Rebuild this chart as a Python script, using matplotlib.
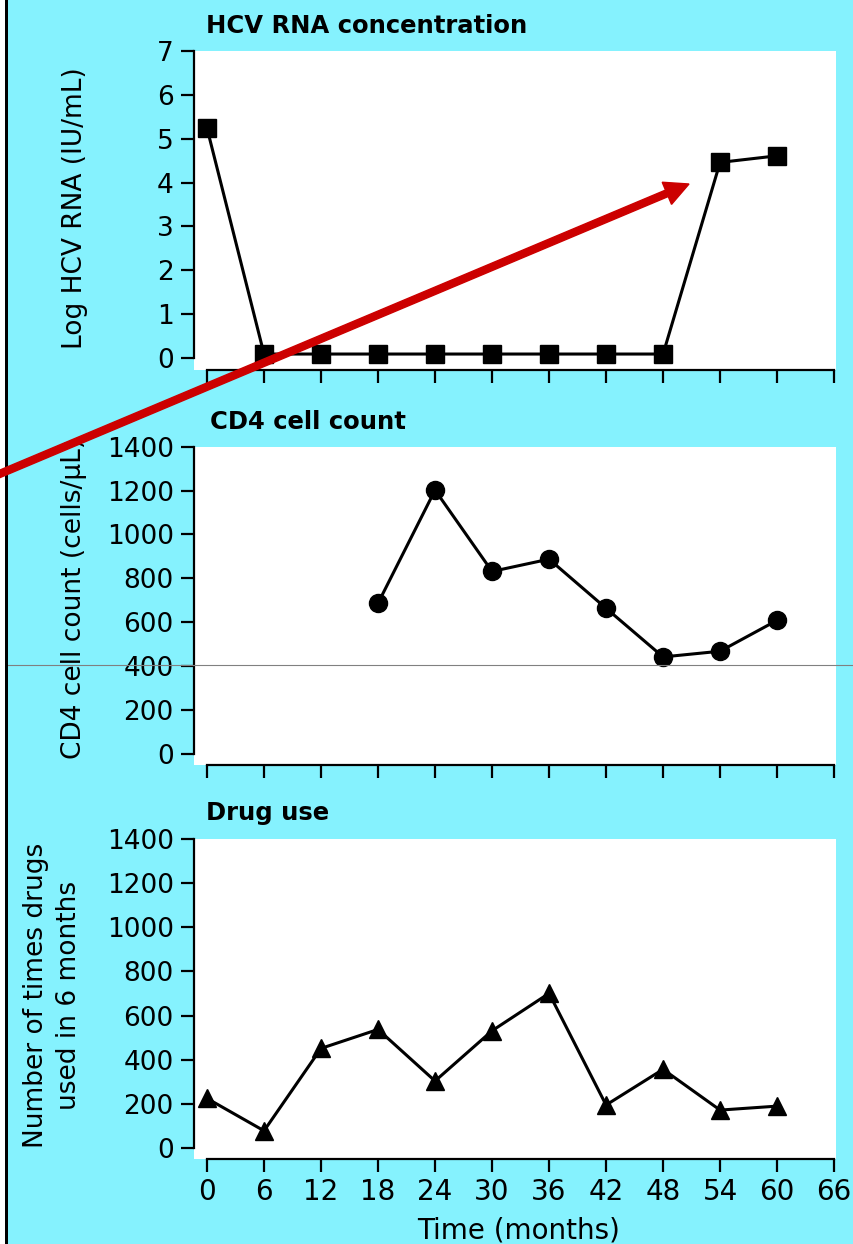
import matplotlib
matplotlib.use("Agg")
import matplotlib.pyplot as plt
import matplotlib.transforms as mtransforms
from matplotlib.lines import Line2D
from matplotlib.patches import FancyArrow, Rectangle

# --- data ---
months = [0, 6, 12, 18, 24, 30, 36, 42, 48, 54, 60]
hcv_log_rna = [5.24, 0.09, 0.09, 0.09, 0.09, 0.09, 0.09, 0.09, 0.09, 4.46, 4.61]

cd4_months = [18, 24, 30, 36, 42, 48, 54, 60]
cd4_count = [686, 1202, 831, 887, 663, 441, 467, 608]

drug_use = [224, 77, 451, 537, 303, 531, 701, 194, 356, 171, 189]

x_ticks = list(range(0, 67, 6))
hcv_ticks = list(range(0, 8))
count_ticks = list(range(0, 1401, 200))

# --- look ---
W, H = 854, 1244
CYAN = '#85F2FE'
plt.rcParams['font.family'] = 'DejaVu Sans'

fig = plt.figure(figsize=(W / 100, H / 100), dpi=100, facecolor=CYAN)


def add_panel(top, bottom):
    # pixel box -> figure fraction
    return fig.add_axes([194 / W, 1 - bottom / H, (836 - 194) / W, (bottom - top) / H])


def style(ax, ybounds, yticks, show_xlabels):
    ax.set_facecolor('white')
    ax.set_xlim(-1.37, 66.2)
    for s in ('top', 'right'):
        ax.spines[s].set_visible(False)
    ax.spines['left'].set_linewidth(1.6)
    ax.spines['bottom'].set_linewidth(1.6)
    ax.spines['left'].set_bounds(*ybounds)
    ax.spines['bottom'].set_bounds(0, 66)
    ax.set_xticks(x_ticks)
    ax.set_yticks(yticks)
    ax.tick_params(direction='out', length=9.5, width=1.6, labelsize=19,
                   colors='black', pad=5)
    if not show_xlabels:
        ax.set_xticklabels([])


# --- HCV RNA ---
ax1 = add_panel(51, 370)
ax1.set_ylim(-0.274, 7)
ax1.plot(months, hcv_log_rna, color='black', lw=2.2, marker='s', ms=12.5,
         clip_on=False, zorder=3)
style(ax1, (0, 7), hcv_ticks, False)

# --- CD4 ---
ax2 = add_panel(446.7, 765)
ax2.set_ylim(-52, 1400)
ax2.plot(cd4_months, cd4_count, color='black', lw=2.2, marker='o', ms=13,
         clip_on=False, zorder=3)
style(ax2, (0, 1400), count_ticks, False)

# --- drug use ---
ax3 = add_panel(839.3, 1159)
ax3.set_ylim(-51, 1400)
ax3.plot(months, drug_use, color='black', lw=2.2, marker='^', ms=13,
         clip_on=False, zorder=3)
style(ax3, (0, 1400), count_ticks, True)
ax3.tick_params(axis='x', labelsize=20, pad=4)

# titles
fig.text(206 / W, 1 - 33 / H, 'HCV RNA concentration', fontsize=17.5,
         fontweight='bold', va='baseline', ha='left')
fig.text(210 / W, 1 - 429 / H, 'CD4 cell count', fontsize=17.5,
         fontweight='bold', va='baseline', ha='left')
fig.text(206 / W, 1 - 820 / H, 'Drug use', fontsize=17.5,
         fontweight='bold', va='baseline', ha='left')

# y labels
fig.text(75 / W, 1 - 208 / H, 'Log HCV RNA (IU/mL)', rotation=90,
         fontsize=19, ha='center', va='center')
fig.text(74 / W, 1 - 598 / H, 'CD4 cell count (cells/\u00b5L)', rotation=90,
         fontsize=19, ha='center', va='center')
fig.text(53 / W, 1 - 995 / H, 'Number of times drugs\nused in 6 months',
         rotation=90, fontsize=19, ha='center', va='center',
         multialignment='center', linespacing=1.35)

# x label (cut by the bottom edge in the reference)
fig.text(519 / W, 1 - 1239 / H, 'Time (months)', fontsize=20,
         ha='center', va='baseline')

# --- overlays: thin grey line, left border, red arrow ---
fig.add_artist(Line2D([0, 1], [1 - 664.5 / H] * 2, transform=fig.transFigure,
                      color='#808080', lw=0.8, zorder=5))
fig.add_artist(Rectangle((0, 0), 5 / W, 1, transform=fig.transFigure,
                         facecolor='white', edgecolor='none', zorder=6))
fig.add_artist(Rectangle((5 / W, 0), 2.5 / W, 1, transform=fig.transFigure,
                         facecolor='black', edgecolor='none', zorder=6))

px = mtransforms.IdentityTransform()
x0, y0 = -10, H - 478
x1, y1 = 689, H - 184
fig.add_artist(FancyArrow(x0, y0, x1 - x0, y1 - y0, width=7, head_width=24,
                          head_length=24, length_includes_head=True,
                          color='#CC0000', transform=px, zorder=7))

fig.savefig('out.png', dpi=100, facecolor=CYAN)
